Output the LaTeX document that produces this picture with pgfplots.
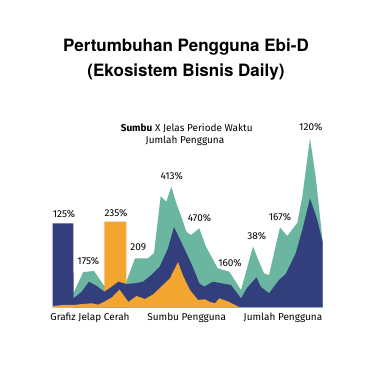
\documentclass[border=0pt]{standalone}
\usepackage{pgfplots}
\pgfplotsset{compat=1.18}
\usepackage{fontspec}
\setmainfont{Fira Sans}
\newfontfamily\titlefont{TeX Gyre Heros}
\definecolor{cnavy}{HTML}{333F7D}
\definecolor{cteal}{HTML}{6BB6A1}
\definecolor{corange}{HTML}{F2A52F}
\definecolor{ctext}{HTML}{2B2B2B}
\begin{document}
\begin{tikzpicture}
\path[use as bounding box] (0,0) rectangle (375pt,366pt);
\begin{axis}[at={(0,0)}, anchor=south west, x=1pt, y=1pt,
  xmin=0, xmax=375, ymin=-58.7, ymax=307.3, hide axis, clip=false,
  every node/.style={font=\fontsize{9.9}{11}\selectfont, text=ctext}]
% teal (back layer)
\addplot[fill=cteal, draw=none] coordinates {
(73.3,0) (73.5,14.3) (83.3,35.3) (94,36.3) (104.3,21.3) (126.3,25.6) (135,49) (148,49)
(154,54.3) (160.7,111.3) (166.3,105.6) (171.3,120.6) (176.3,104) (181.3,90.6) (186.5,75.3)
(191,72.3) (199.3,79) (206,60.6) (217.7,39) (229.3,35.6) (241,17.3) (253,60.8) (259,45.6)
(264,34) (269,32.3) (280,80) (287.3,71.3) (297.3,84.6) (302.3,110.6) (310,169) (315.7,130.6)
(322.5,67.3) (322.5,0)} \closedcycle;
% orange bar
\addplot[fill=corange, draw=none] coordinates {
(104.3,0) (104.3,85.6) (126.3,85.6) (126.3,0)} \closedcycle;
% navy layer
\addplot[fill=cnavy, draw=none] coordinates {
(52.7,0) (52.7,84) (73.3,84) (73.6,9) (81.7,15.6) (89,25.6) (96.7,21.3) (104.3,15.6)
(111,20) (118.3,25.6) (126.3,23.3) (134.7,24) (143,25.6) (151.3,32.3) (159.7,40.6) (168,59)
(174,80.3) (185,57.3) (192.7,40.6) (199.3,24) (204.3,20.6) (212.7,25.6) (231,22.3) (241,9)
(247,19.3) (256.5,30) (260.7,20.6) (269,14) (279,27.3) (285.7,33.3) (295.7,54) (302.3,77.3)
(310,109) (317.3,87.3) (322.5,65.6) (322.5,0)} \closedcycle;
% orange layer (front)
\addplot[fill=corange, draw=none] coordinates {
(52.7,0) (52.7,1.3) (63.3,2.3) (73.3,2.3) (83.3,3.3) (91.7,4) (98.3,2.6) (104.3,5.6)
(112,10) (119.5,17.8) (128.5,5.3) (136.5,11.3) (145,8.3) (153,12.8) (163,22.3) (170,29)
(178,45.3) (183.5,30.6) (190,17.3) (198,7.3) (205,8) (209.3,5.6) (215,4) (219.3,9)
(228.5,5.6) (238.5,0.6) (240,0)} \closedcycle;
% title
\node[font=\fontsize{17}{20}\selectfont\titlefont\bfseries] at (axis cs:186,260.6) {Pertumbuhan Pengguna Ebi-D};
\node[font=\fontsize{17}{20}\selectfont\titlefont\bfseries] at (axis cs:186,235.6) {(Ekosistem Bisnis Daily)};
% subtitle
\node at (axis cs:186.7,179) {\textbf{Sumbu} X Jelas Periode Waktu};
\node at (axis cs:185,166.6) {Jumlah Pengguna};
% data labels
\node at (axis cs:64,93.3) {125\%};
\node at (axis cs:88.3,46.3) {175\%};
\node at (axis cs:116,94.6) {235\%};
\node at (axis cs:138.3,60) {209};
\node at (axis cs:171.7,131.3) {413\%};
\node at (axis cs:199.5,88.8) {470\%};
\node at (axis cs:230,44.6) {160\%};
\node at (axis cs:256.7,71.3) {38\%};
\node at (axis cs:280,90) {167\%};
\node at (axis cs:310.8,180) {120\%};
% x labels
\node at (axis cs:90,-10.4) {Grafiz Jelap Cerah};
\node at (axis cs:186.7,-10.4) {Sumbu Pengguna};
\node at (axis cs:283,-10.4) {Jumlah Pengguna};
\end{axis}
\end{tikzpicture}
\end{document}
